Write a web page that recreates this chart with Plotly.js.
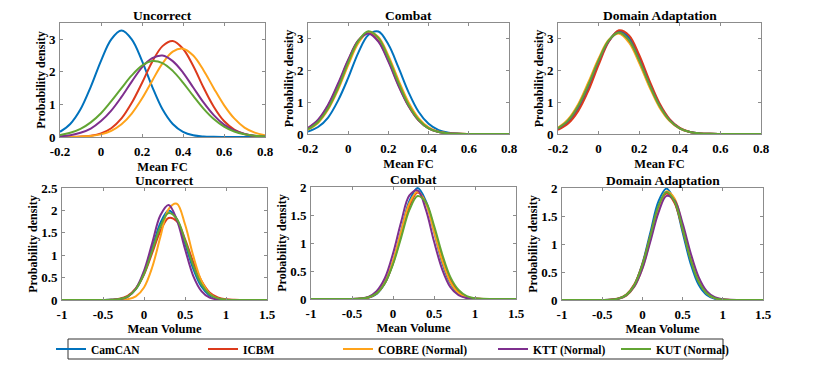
<!DOCTYPE html>
<html>
<head>
<meta charset="utf-8">
<script src="https://cdn.plot.ly/plotly-3.0.1.min.js"></script>
<style>html,body{margin:0;padding:0;background:#fff;}#chart{width:834px;height:367px;}</style>
</head>
<body>
<div id="chart"></div>
<script>
// ---------- data ----------
const seriesNames = ["CamCAN", "ICBM", "COBRE (Normal)", "KTT (Normal)", "KUT (Normal)"];
const panelTitles = ["Uncorrect", "Combat", "Domain Adaptation", "Uncorrect", "Combat", "Domain Adaptation"];

const xFC = [-0.2,-0.15,-0.1,-0.05,0,0.05,0.1,0.15,0.2,0.25,0.3,0.35,0.4,0.45,0.5,0.55,0.6,0.65,0.7,0.75,0.8];
const xVol = [-1,-0.9,-0.8,-0.7,-0.6,-0.5,-0.4,-0.3,-0.2,-0.1,0,0.1,0.2,0.3,0.4,0.5,0.6,0.7,0.8,0.9,1.0,1.1,1.2,1.3,1.4,1.5];

// Mean FC - Uncorrect
const fcUncCamCAN = [0.16,0.40,0.85,1.54,2.34,3.00,3.27,3.00,2.34,1.54,0.85,0.40,0.16,0.053,0.015,0.004,0.001,0,0,0,0];
const fcUncICBM   = [0.001,0.004,0.013,0.040,0.11,0.27,0.57,1.05,1.66,2.31,2.79,2.95,2.71,2.18,1.52,0.93,0.49,0.23,0.093,0.033,0.010];
const fcUncCOBRE  = [0.001,0.003,0.011,0.031,0.081,0.19,0.39,0.72,1.18,1.73,2.26,2.62,2.71,2.50,2.05,1.50,0.98,0.57,0.29,0.135,0.055];
const fcUncKTT    = [0.023,0.057,0.13,0.26,0.49,0.81,1.23,1.70,2.14,2.42,2.50,2.33,1.98,1.52,1.06,0.67,0.38,0.20,0.095,0.041,0.016];
const fcUncKUT    = [0.062,0.13,0.25,0.45,0.73,1.10,1.50,1.89,2.19,2.33,2.27,2.03,1.67,1.26,0.87,0.55,0.32,0.17,0.086,0.038,0.016];
// Mean FC - Combat
const fcComCamCAN = [0.080,0.22,0.52,1.06,1.77,2.56,3.12,3.23,2.82,2.10,1.32,0.70,0.32,0.12,0.039,0.011,0.003,0.001,0,0,0];
const fcComICBM   = [0.18,0.43,0.89,1.55,2.32,2.94,3.19,2.94,2.32,1.55,0.89,0.43,0.18,0.063,0.019,0.005,0.001,0,0,0,0];
const fcComCOBRE  = [0.14,0.35,0.77,1.40,2.17,2.86,3.21,3.06,2.47,1.70,1.00,0.50,0.21,0.075,0.023,0.006,0.001,0,0,0,0];
const fcComKTT    = [0.19,0.45,0.92,1.60,2.34,2.95,3.17,2.91,2.28,1.52,0.88,0.43,0.18,0.065,0.020,0.005,0.001,0,0,0,0];
const fcComKUT    = [0.15,0.38,0.81,1.46,2.25,2.93,3.24,3.03,2.40,1.62,0.92,0.45,0.18,0.064,0.019,0.005,0.001,0,0,0,0];
// Mean FC - Domain Adaptation
const fcDaCamCAN  = [0.15,0.37,0.81,1.47,2.25,2.94,3.25,3.04,2.41,1.62,0.92,0.44,0.18,0.063,0.018,0.005,0.001,0,0,0,0];
const fcDaICBM    = [0.13,0.33,0.73,1.37,2.18,2.91,3.27,3.11,2.49,1.69,0.97,0.47,0.19,0.065,0.019,0.005,0.001,0,0,0,0];
const fcDaCOBRE   = [0.20,0.47,0.95,1.64,2.38,2.97,3.17,2.88,2.24,1.49,0.84,0.41,0.17,0.059,0.018,0.005,0.001,0,0,0,0];
const fcDaKTT     = [0.17,0.42,0.87,1.53,2.30,2.93,3.21,2.96,2.35,1.58,0.91,0.44,0.18,0.064,0.019,0.005,0.001,0,0,0,0];
const fcDaKUT     = [0.18,0.43,0.89,1.56,2.32,2.95,3.20,2.95,2.32,1.56,0.89,0.43,0.18,0.062,0.019,0.005,0.001,0,0,0,0];
// Mean Volume - Uncorrect
const volUncCamCAN = [0,0,0,0,0,0.0005,0.004,0.019,0.077,0.24,0.60,1.15,1.72,2.00,1.81,1.27,0.70,0.30,0.099,0.026,0.005,0.001,0,0,0,0];
const volUncICBM   = [0,0,0,0,0.0002,0.001,0.006,0.026,0.092,0.26,0.57,1.05,1.54,1.83,1.76,1.36,0.85,0.43,0.17,0.057,0.015,0.003,0.001,0,0,0];
const volUncCOBRE  = [0,0,0,0,0,0,0.0003,0.003,0.017,0.080,0.28,0.73,1.41,2.03,2.15,1.69,0.99,0.43,0.14,0.032,0.006,0.001,0,0,0,0];
const volUncKTT    = [0,0,0,0,0,0.0003,0.003,0.015,0.070,0.25,0.65,1.27,1.89,2.12,1.79,1.14,0.54,0.20,0.054,0.011,0.002,0,0,0,0,0];
const volUncKUT    = [0,0,0,0,0,0.0006,0.004,0.020,0.077,0.24,0.58,1.10,1.64,1.94,1.81,1.33,0.77,0.35,0.13,0.036,0.008,0.0015,0,0,0,0];
// Mean Volume - Combat
const volComCamCAN = [0,0,0,0,0,0.001,0.005,0.023,0.091,0.28,0.65,1.21,1.75,1.98,1.75,1.21,0.65,0.28,0.091,0.023,0.005,0.001,0,0,0,0];
const volComICBM   = [0,0,0,0,0,0.001,0.006,0.028,0.099,0.28,0.64,1.15,1.66,1.90,1.73,1.26,0.73,0.34,0.13,0.037,0.008,0.002,0,0,0,0];
const volComCOBRE  = [0,0,0,0,0,0.001,0.007,0.030,0.106,0.30,0.68,1.21,1.71,1.92,1.71,1.21,0.68,0.30,0.106,0.030,0.007,0.001,0,0,0,0];
const volComKTT    = [0,0,0,0,0,0.002,0.009,0.039,0.14,0.37,0.81,1.38,1.85,1.94,1.60,1.03,0.53,0.21,0.067,0.016,0.003,0,0,0,0,0];
const volComKUT    = [0,0,0,0,0,0.001,0.007,0.030,0.10,0.28,0.62,1.10,1.59,1.84,1.73,1.31,0.80,0.39,0.16,0.050,0.013,0.003,0.0005,0,0,0];
// Mean Volume - Domain Adaptation
const volDaCamCAN  = [0,0,0,0,0,0.001,0.005,0.022,0.089,0.27,0.65,1.21,1.76,1.99,1.76,1.21,0.65,0.27,0.089,0.022,0.005,0.001,0,0,0,0];
const volDaICBM    = [0,0,0,0,0,0.001,0.006,0.028,0.099,0.28,0.64,1.15,1.66,1.90,1.73,1.26,0.73,0.34,0.13,0.037,0.008,0.002,0,0,0,0];
const volDaCOBRE   = [0,0,0,0,0,0.001,0.004,0.020,0.077,0.24,0.57,1.09,1.64,1.94,1.81,1.32,0.76,0.35,0.12,0.035,0.008,0.001,0,0,0,0];
const volDaKTT     = [0,0,0,0,0,0.001,0.005,0.023,0.083,0.24,0.56,1.05,1.56,1.86,1.78,1.37,0.84,0.41,0.16,0.051,0.013,0.003,0.0005,0,0,0];
const volDaKUT     = [0,0,0,0,0,0.001,0.005,0.025,0.091,0.27,0.63,1.15,1.68,1.93,1.76,1.27,0.72,0.32,0.12,0.033,0.007,0.001,0,0,0,0];

const fcTickVals = [-0.2,0,0.2,0.4,0.6,0.8];
const volTickVals = [-1,-0.5,0,0.5,1,1.5];
const fcYTicks = [0,1,2,3];
const volYTicksUnc = [0,0.5,1,1.5,2,2.5];
const volYTicks = [0,0.5,1,1.5,2];

// ---------- styling / layout ----------
const W = 834, H = 367;
const colors = ["#0072BD", "#DC3A1C", "#FFA31A", "#7E2F8E", "#62A533"];
const FONT = "'Liberation Serif', 'Times New Roman', serif";

const panelData = [
  {x: xFC,  ys: [fcUncCamCAN, fcUncICBM, fcUncCOBRE, fcUncKTT, fcUncKUT]},
  {x: xFC,  ys: [fcComCamCAN, fcComICBM, fcComCOBRE, fcComKTT, fcComKUT]},
  {x: xFC,  ys: [fcDaCamCAN, fcDaICBM, fcDaCOBRE, fcDaKTT, fcDaKUT]},
  {x: xVol, ys: [volUncCamCAN, volUncICBM, volUncCOBRE, volUncKTT, volUncKUT]},
  {x: xVol, ys: [volComCamCAN, volComICBM, volComCOBRE, volComKTT, volComKUT]},
  {x: xVol, ys: [volDaCamCAN, volDaICBM, volDaCOBRE, volDaKTT, volDaKUT]}
];
// pixel boxes of the six plot areas [left, right, top, bottom]
const boxes = [
  [60, 265, 23, 137], [308, 509, 23, 134], [558, 761, 23, 134],
  [62, 267, 188, 300], [311, 516, 187, 299], [562, 763, 188, 300]
];
const panelAxis = [
  {xr: [-0.2, 0.8], xt: fcTickVals, yr: [0, 3.5], yt: fcYTicks, xl: "Mean FC", so: 4},
  {xr: [-0.2, 0.8], xt: fcTickVals, yr: [0, 3.5], yt: fcYTicks, xl: "Mean FC", so: 4},
  {xr: [-0.2, 0.8], xt: fcTickVals, yr: [0, 3.5], yt: fcYTicks, xl: "Mean FC", so: 4},
  {xr: [-1, 1.5], xt: volTickVals, yr: [0, 2.5], yt: volYTicksUnc, xl: "Mean Volume", so: 0},
  {xr: [-1, 1.5], xt: volTickVals, yr: [0, 2], yt: volYTicks, xl: "Mean Volume", so: 0},
  {xr: [-1, 1.5], xt: volTickVals, yr: [0, 2], yt: volYTicks, xl: "Mean Volume", so: 0}
];

const traces = [];
const layout = {
  width: W, height: H,
  margin: {l: 0, r: 0, t: 0, b: 0},
  paper_bgcolor: "#ffffff", plot_bgcolor: "#ffffff",
  font: {family: FONT, color: "#000", size: 12, weight: 700},
  showlegend: true,
  annotations: [], shapes: []
};

panelData.forEach((p, i) => {
  const n = i + 1;
  const xa = "x" + (n === 1 ? "" : n), ya = "y" + (n === 1 ? "" : n);
  p.ys.forEach((y, s) => {
    const tr = {
      type: "scatter", mode: "lines", x: p.x, y: y,
      name: seriesNames[s], xaxis: xa, yaxis: ya,
      line: {color: colors[s], width: 2, shape: "spline", smoothing: 1},
      showlegend: i === 0, hoverinfo: "x+y+name"
    };
    if (i === 0) tr.legend = "legend" + (s === 0 ? "" : s + 1);
    traces.push(tr);
  });
  const b = boxes[i], a = panelAxis[i];
  const axCommon = {
    showline: true, mirror: "ticks", linecolor: "#8c8c8c", linewidth: 1,
    ticks: "inside", ticklen: 3, tickwidth: 1, tickcolor: "#8c8c8c",
    showgrid: false, zeroline: false, fixedrange: true,
    tickfont: {family: FONT, size: 13, color: "#000", weight: 700}
  };
  layout["xaxis" + (n === 1 ? "" : n)] = Object.assign({}, axCommon, {
    domain: [b[0] / W, b[1] / W], anchor: ya, range: a.xr,
    tickmode: "array", tickvals: a.xt, ticktext: a.xt.map(v => String(v)),
    ticklabelstandoff: 2,
    title: {text: a.xl, font: {family: FONT, size: 12.5, color: "#000", weight: 700}, standoff: a.so}
  });
  layout["yaxis" + (n === 1 ? "" : n)] = Object.assign({}, axCommon, {
    domain: [1 - b[3] / H, 1 - b[2] / H], anchor: xa, range: a.yr,
    tickmode: "array", tickvals: a.yt, ticktext: a.yt.map(v => String(v)),
    ticklabelstandoff: 1,
    title: {text: "Probability density", font: {family: FONT, size: 12, color: "#000", weight: 700}, standoff: 0}
  });
  layout.annotations.push({
    text: panelTitles[i], xref: "paper", yref: "paper",
    x: (b[0] + b[1]) / 2 / W, y: 1 - (b[2] - 8) / H,
    xanchor: "center", yanchor: "middle", showarrow: false,
    font: {family: FONT, size: 13.5, color: "#000", weight: 700}
  });
});

// legend: one legend per entry so each sits where the reference places it
const legendTextX = [93, 245, 380, 535, 658];
const legendY = 349;
legendTextX.forEach((tx, s) => {
  layout["legend" + (s === 0 ? "" : s + 1)] = {
    x: (tx - 42) / W, y: 1 - legendY / H, xref: "paper", yref: "paper",
    xanchor: "left", yanchor: "middle", orientation: "h",
    bgcolor: "rgba(0,0,0,0)", borderwidth: 0,
    font: {family: FONT, size: 11.5, color: "#000", weight: 700}
  };
});
layout.shapes.push({
  type: "rect", xref: "paper", yref: "paper",
  x0: 68 / W, x1: 723 / W, y0: 1 - 359 / H, y1: 1 - 339 / H,
  line: {color: "#333333", width: 1}, fillcolor: "rgba(0,0,0,0)"
});

Plotly.newPlot("chart", traces, layout, {displayModeBar: false});
</script>
</body>
</html>
